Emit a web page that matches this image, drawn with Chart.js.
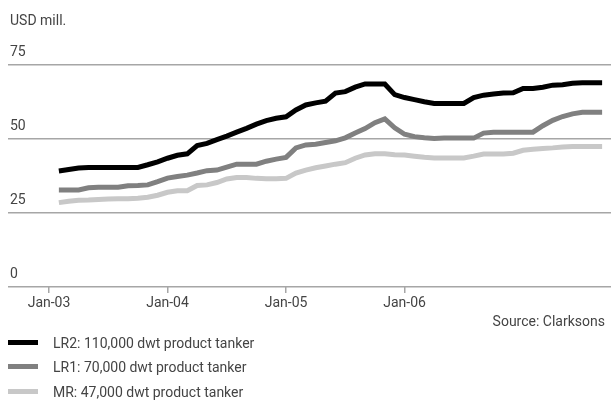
<!DOCTYPE html>
<html>
<head>
<meta charset="utf-8">
<script src="https://cdn.jsdelivr.net/npm/chart.js@4"></script>
<style>
  html, body { margin: 0; padding: 0; background: #fff; }
  #wrap { position: relative; width: 611px; height: 403px; font-family: Roboto, "DejaVu Sans", sans-serif; color: #444; }
  canvas { position: absolute; left: 0; top: 0; }
  .txt { position: absolute; font-size: 14px; line-height: 16px; white-space: nowrap; }
  .sw { position: absolute; left: 8px; width: 30px; height: 5px; }
</style>
</head>
<body>
<div id="wrap">
  <canvas id="c" width="611" height="403"></canvas>
  <div class="txt" style="left:10px; top:12px;">USD mill.</div>
  <div class="txt" style="right:6px; top:313px;">Source: Clarksons</div>
  <div id="legend"></div>
</div>
<script>
// ---- data ----
const months = [
  'Feb-03','Mar-03','Apr-03','May-03','Jun-03','Jul-03','Aug-03','Sep-03','Oct-03','Nov-03','Dec-03',
  'Jan-04','Feb-04','Mar-04','Apr-04','May-04','Jun-04','Jul-04','Aug-04','Sep-04','Oct-04','Nov-04','Dec-04',
  'Jan-05','Feb-05','Mar-05','Apr-05','May-05','Jun-05','Jul-05','Aug-05','Sep-05','Oct-05','Nov-05','Dec-05',
  'Jan-06','Feb-06','Mar-06','Apr-06','May-06','Jun-06','Jul-06','Aug-06','Sep-06','Oct-06','Nov-06','Dec-06',
  'Jan-07','Feb-07','Mar-07','Apr-07','May-07','Jun-07','Jul-07','Aug-07','Sep-07'
];
const lr2 = [39.2,39.7,40.2,40.4,40.4,40.4,40.4,40.4,40.4,41.3,
             42.3,43.5,44.5,45.0,47.8,48.5,49.8,51.0,52.3,53.6,
             55.0,56.2,57.0,57.5,59.8,61.5,62.2,62.8,65.5,66.0,
             67.5,68.6,68.6,68.6,65.0,64.0,63.3,62.6,62.0,62.0,
             62.0,62.0,64.0,64.8,65.2,65.5,65.6,67.1,67.1,67.5,
             68.2,68.3,68.8,69.0,69.0,69.0];
const lr1 = [32.8,32.8,32.8,33.5,33.7,33.7,33.7,34.2,34.3,34.5,
             35.6,36.8,37.3,37.8,38.5,39.3,39.5,40.5,41.5,41.5,
             41.5,42.5,43.2,43.8,47.0,48.0,48.2,48.8,49.4,50.4,
             52.0,53.5,55.5,56.8,53.8,51.6,50.8,50.4,50.2,50.3,
             50.3,50.3,50.3,52.0,52.3,52.3,52.3,52.3,52.3,54.5,
             56.3,57.6,58.5,59.0,59.0,59.0];
const mr  = [28.5,29.0,29.3,29.4,29.6,29.7,29.8,29.8,30.0,30.3,
             31.0,32.0,32.5,32.5,34.3,34.5,35.3,36.5,37.0,37.0,
             36.7,36.6,36.6,36.7,38.5,39.5,40.3,40.9,41.5,42.0,
             43.5,44.6,45.0,45.0,44.7,44.6,44.2,43.8,43.6,43.6,
             43.6,43.6,44.2,44.9,44.9,44.9,45.2,46.2,46.5,46.8,
             47.0,47.3,47.5,47.5,47.5,47.5];
const seriesNames = ['LR2: 110,000 dwt product tanker','LR1: 70,000 dwt product tanker','MR: 47,000 dwt product tanker'];
const seriesColors = ['#000000','#808080','#c8c8c8'];
const xTickLabels = ['Jan-03','Jan-04','Jan-05','Jan-06'];
const yTicks = [0,25,50,75];

// month label -> months since Jan-03
const mIdx = s => {
  const names = ['Jan','Feb','Mar','Apr','May','Jun','Jul','Aug','Sep','Oct','Nov','Dec'];
  const [m, y] = s.split('-');
  return (parseInt(y, 10) - 3) * 12 + names.indexOf(m);
};
const pts = arr => arr.map((v, i) => ({ x: mIdx(months[i]), y: v }));

const allSeries = [lr2, lr1, mr];
const datasets = allSeries.map((arr, i) => ({
  label: seriesNames[i],
  data: pts(arr),
  borderColor: seriesColors[i],
  backgroundColor: seriesColors[i],
  borderWidth: 5,
  pointRadius: 0,
  tension: 0,
  borderCapStyle: 'butt',
  borderJoinStyle: 'miter'
}));

Chart.defaults.font.family = 'Roboto, "DejaVu Sans", sans-serif';
Chart.defaults.font.size = 14;
Chart.defaults.color = '#444';

new Chart(document.getElementById('c'), {
  type: 'line',
  data: { datasets },
  options: {
    responsive: false,
    animation: false,
    layout: { padding: { left: 8, right: 0, top: 65, bottom: 94 } },
    plugins: { legend: { display: false }, tooltip: { enabled: false } },
    scales: {
      x: {
        type: 'linear',
        min: -4.15,
        max: 56.9,
        afterBuildTicks: s => { s.ticks = xTickLabels.map(l => ({ value: mIdx(l) })); },
        afterFit: s => { s.height = 22; },
        grid: { drawOnChartArea: false, drawTicks: true, tickLength: 6, color: '#a6a6a6', lineWidth: 1.5 },
        border: { display: false },
        ticks: {
          padding: 2,
          maxRotation: 0,
          autoSkip: false,
          callback: v => { const i = xTickLabels.findIndex(l => mIdx(l) === v); return i >= 0 ? xTickLabels[i] : ''; }
        }
      },
      y: {
        min: 0,
        max: 75,
        afterBuildTicks: s => { s.ticks = yTicks.map(v => ({ value: v })); },
        afterFit: s => { s.width = 0; },
        grid: { drawTicks: false, color: '#a6a6a6', lineWidth: 1.5 },
        border: { display: false },
        ticks: { mirror: true, padding: 2, labelOffset: -13 }
      }
    }
  }
});

// legend
const lg = document.getElementById('legend');
const rowsY = [343, 367, 392];
seriesNames.forEach((name, i) => {
  const sw = document.createElement('div');
  sw.className = 'sw';
  sw.style.top = (rowsY[i] - 3) + 'px';
  sw.style.background = seriesColors[i];
  lg.appendChild(sw);
  const t = document.createElement('div');
  t.className = 'txt';
  t.style.left = '53px';
  t.style.top = (rowsY[i] - 8) + 'px';
  t.textContent = name;
  lg.appendChild(t);
});
</script>
</body>
</html>
